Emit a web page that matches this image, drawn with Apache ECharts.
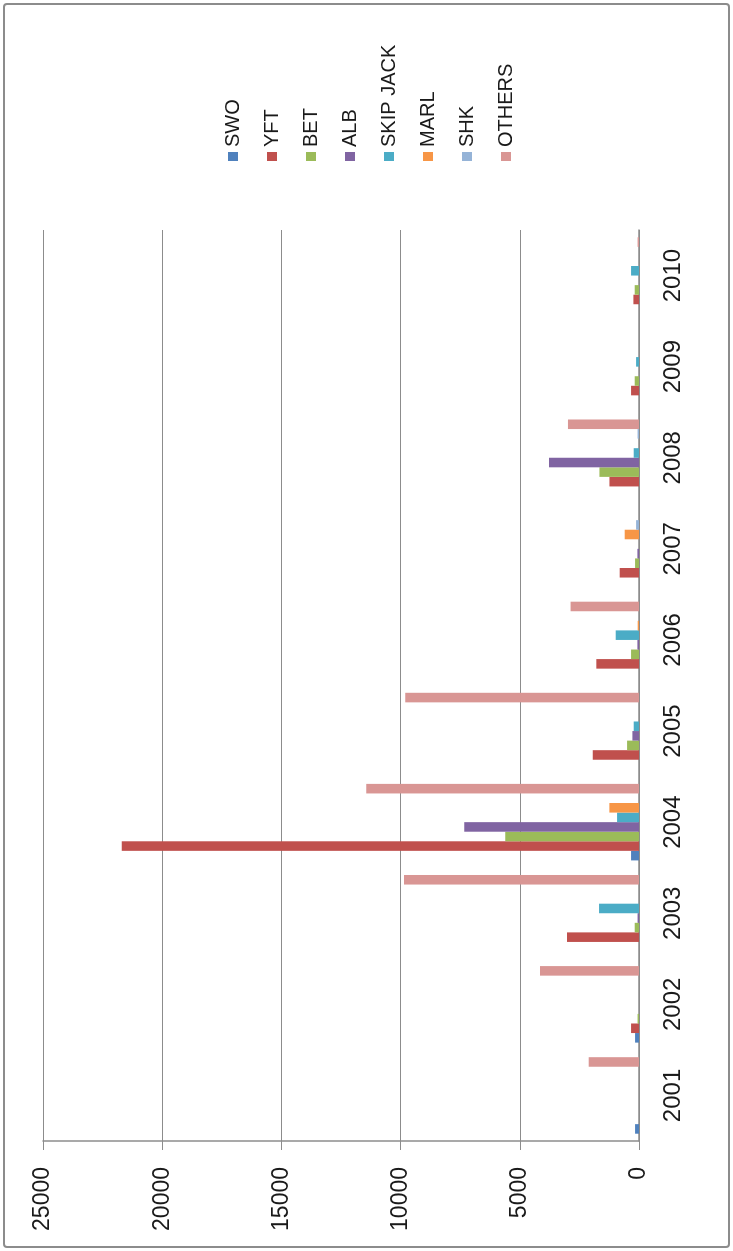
<!DOCTYPE html>
<html>
<head>
<meta charset="utf-8">
<script src="https://cdn.jsdelivr.net/npm/echarts@6/dist/echarts.min.js"></script>
<style>
  html, body { margin: 0; padding: 0; width: 733px; height: 1251px; overflow: hidden; background: #fff; }
  #frame { position: absolute; left: 3px; top: 3px; width: 723px; height: 1241px; border: 2px solid #8c8c8c; border-radius: 4px; }
  #chart { position: absolute; left: 0; top: 0; width: 1251px; height: 733px;
           transform-origin: 0 0; transform: translate(0px, 1251px) rotate(-90deg); }
</style>
</head>
<body>
<div id="frame"></div>
<div id="chart"></div>
<script>
const years = ['2001','2002','2003','2004','2005','2006','2007','2008','2009','2010'];
const seriesNames = ['SWO','YFT','BET','ALB','SKIP JACK','MARL','SHK','OTHERS'];
const SWO      = [165, 165, 0, 333, 0, 0, 0, 0, 0, 0];
const YFT      = [0, 333, 3020, 21700, 1940, 1790, 810, 1240, 333, 235];
const BET      = [0, 60, 180, 5610, 500, 333, 165, 1660, 180, 180];
const ALB      = [0, 0, 60, 7330, 277, 67, 67, 3775, 0, 0];
const SKIPJACK = [0, 0, 1676, 920, 222, 977, 0, 222, 122, 333];
const MARL     = [0, 0, 0, 1243, 0, 55, 600, 0, 0, 0];
const SHK      = [0, 0, 0, 0, 0, 0, 122, 60, 0, 0];
const OTHERS   = [2110, 4150, 9860, 11440, 9810, 2870, 0, 2980, 0, 60];
const valueTicks = [0, 5000, 10000, 15000, 20000, 25000];

const seriesData = [SWO, YFT, BET, ALB, SKIPJACK, MARL, SHK, OTHERS];
const colors = ['#4F81BD','#C0504D','#9BBB59','#8064A2','#4BACC6','#F79646','#95B3D7','#D99694'];
const font = 'Liberation Sans, Arial, sans-serif';

const chart = echarts.init(document.getElementById('chart'));
chart.setOption({
  animation: false,
  backgroundColor: 'transparent',
  color: colors,
  legend: {
    orient: 'vertical',
    left: 1085,
    top: 218,
    itemWidth: 9,
    itemHeight: 10,
    itemGap: 19,
    icon: 'rect',
    textStyle: { fontFamily: font, fontSize: 20, lineHeight: 20, color: '#1a1a1a' },
    data: seriesNames
  },
  grid: { left: 110, right: 230, top: 43, bottom: 94, containLabel: false },
  xAxis: {
    type: 'category',
    data: years,
    axisLine: { lineStyle: { color: '#8c8c8c', width: 1.5 } },
    axisTick: { length: 9, lineStyle: { color: '#8c8c8c' } },
    axisLabel: { fontFamily: font, fontSize: 24, color: '#1a1a1a', margin: 22 }
  },
  yAxis: {
    type: 'value',
    min: valueTicks[0],
    max: valueTicks[valueTicks.length - 1],
    interval: valueTicks[1] - valueTicks[0],
    axisLine: { show: true, lineStyle: { color: '#8c8c8c', width: 1.5 } },
    axisTick: { show: true, length: 9, lineStyle: { color: '#8c8c8c' } },
    splitLine: { lineStyle: { color: '#8c8c8c', width: 1.2 } },
    axisLabel: { fontFamily: font, fontSize: 23, color: '#1a1a1a', margin: 26,
                 formatter: v => String(v) }
  },
  series: seriesNames.map((name, i) => ({
    name: name,
    type: 'bar',
    data: seriesData[i],
    barGap: '0%',
    barCategoryGap: '16%',
    itemStyle: { color: colors[i] }
  }))
});
</script>
</body>
</html>
